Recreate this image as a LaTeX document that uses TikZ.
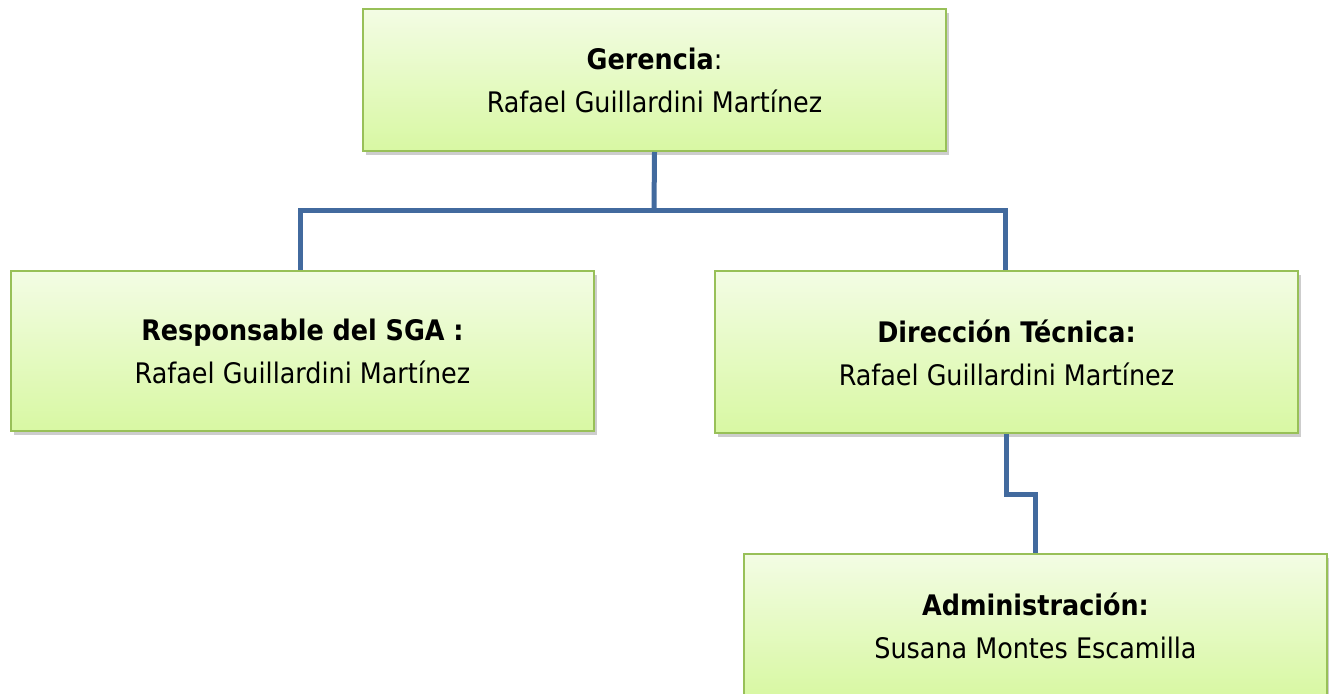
\documentclass[tikz,border=0pt]{standalone}
\usepackage{fontspec}
\setmainfont{DejaVu Sans Condensed}
\usetikzlibrary{shadows}
\definecolor{boxtop}{RGB}{243,252,228}
\definecolor{boxbot}{RGB}{216,248,163}
\definecolor{boxline}{RGB}{152,192,88}
\definecolor{linkc}{RGB}{66,106,158}
\begin{document}
\begin{tikzpicture}[x=1pt,y=-1pt,
  orgbox/.style={draw=boxline,line width=2pt,top color=boxtop,bottom color=boxbot,
    minimum width=583pt,anchor=north west,inner sep=0pt,
    drop shadow={shadow xshift=3pt,shadow yshift=-4pt,opacity=0.28,fill=black!70},
    align=center,font=\fontsize{28.3}{43}\selectfont},
  link/.style={draw=linkc,line width=5pt}]
\useasboundingbox (0,0) rectangle (1329,693);
\node[orgbox,minimum height=142pt] (ger) at (362,8) {\textbf{Gerencia}:\\Rafael Guillardini Martínez\\[-44pt]};
\node[orgbox,minimum height=160pt] (resp) at (10,270) {\textbf{Responsable del SGA :}\\Rafael Guillardini Martínez\\[-44pt]};
\node[orgbox,minimum height=162pt] (dir) at (714,270) {\textbf{Dirección Técnica:}\\Rafael Guillardini Martínez\\[-44pt]};
\node[orgbox,minimum height=142pt] (adm) at (743,553) {\textbf{Administración:}\\Susana Montes Escamilla\\[-44pt]};
\coordinate (j) at (654,210);
\draw[link] (ger.south) -- (j);
\draw[link] (resp.north -| 300,0) |- (j) -| (dir.north -| 1005,0);
\draw[link] (dir.south -| 1006,0) -- ++(0,60) -| (adm.north -| 1035,0);
\end{tikzpicture}
\end{document}
